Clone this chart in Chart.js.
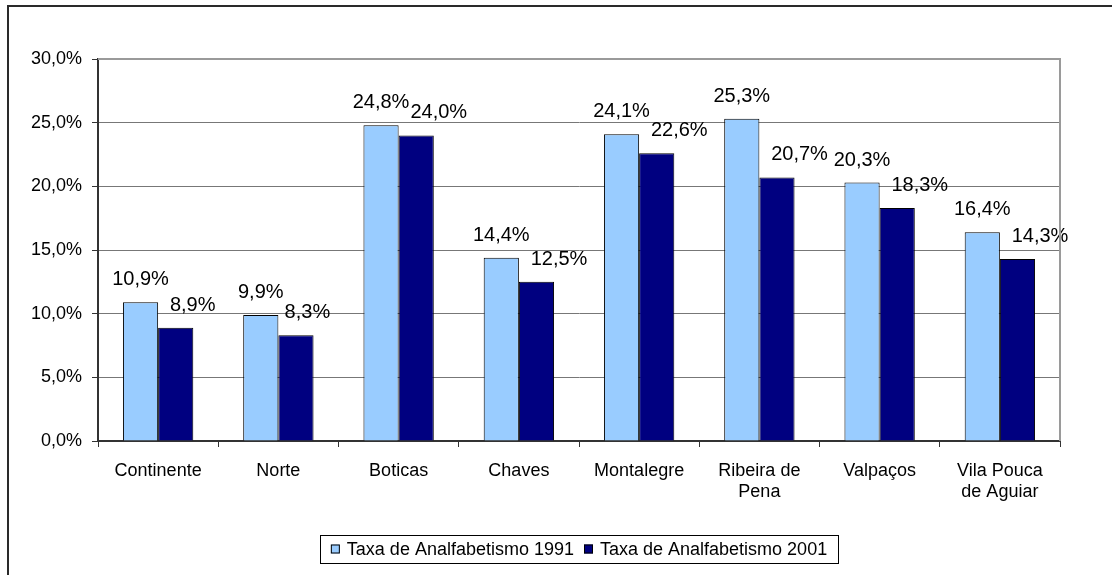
<!DOCTYPE html>
<html>
<head>
<meta charset="utf-8">
<script src="https://cdn.jsdelivr.net/npm/chart.js@4.4.1/dist/chart.umd.min.js"></script>
<style>
  html, body { margin: 0; padding: 0; background: #fff; overflow: hidden; }
  #wrap { position: relative; width: 1112px; height: 575px; }
  #frame { position: absolute; left: 7px; top: 5px; width: 1200px; height: 700px; border: 2px solid #2a2a2a; box-sizing: border-box; }
  canvas { position: absolute; left: 0; top: 0; }
</style>
</head>
<body>
<div id="wrap">
  <div id="frame"></div>
  <canvas id="chart" width="1112" height="575"></canvas>
</div>
<script>
// chart data
const categories = ['Continente', 'Norte', 'Boticas', 'Chaves', 'Montalegre',
  ['Ribeira de', 'Pena'], 'Valpaços', ['Vila Pouca', 'de Aguiar']];
const taxa1991 = [10.9, 9.9, 24.8, 14.4, 24.1, 25.3, 20.3, 16.4];
const taxa2001 = [8.9, 8.3, 24.0, 12.5, 22.6, 20.7, 18.3, 14.3];
const seriesNames = ['Taxa de Analfabetismo 1991', 'Taxa de Analfabetismo 2001'];
const yTicks = [0, 5, 10, 15, 20, 25, 30];

const FONT = '"Liberation Sans", Arial, sans-serif';
const fmt = v => v.toFixed(1).replace('.', ',') + '%';

// value labels above the bars, second series pushed right if it would overlap
const valueLabels = {
  id: 'valueLabels',
  afterDatasetsDraw(chart) {
    const c = chart.ctx;
    c.save();
    c.font = '20px ' + FONT;
    c.fillStyle = '#000';
    c.textBaseline = 'alphabetic';
    const m0 = chart.getDatasetMeta(0), m1 = chart.getDatasetMeta(1);
    m0.data.forEach((bar, i) => {
      const t0 = fmt(taxa1991[i]);
      const w0 = c.measureText(t0).width;
      const x0 = bar.x;
      c.textAlign = 'center';
      c.fillText(t0, x0, bar.y - 17);
      const b1 = m1.data[i];
      const t1 = fmt(taxa2001[i]);
      const w1 = c.measureText(t1).width;
      const left = Math.max(b1.x - w1 / 2, x0 + w0 / 2 + 1);
      c.textAlign = 'left';
      c.fillText(t1, left, b1.y - 17);
    });
    c.restore();
  }
};

// plot frame (top/right grey) and boxed legend
const frameAndLegend = {
  id: 'frameAndLegend',
  afterDraw(chart) {
    const c = chart.ctx, a = chart.chartArea;
    c.save();
    c.strokeStyle = '#9a9a9a';
    c.lineWidth = 2;
    c.beginPath();
    c.moveTo(a.left, a.top);
    c.lineTo(a.right, a.top);
    c.lineTo(a.right, a.bottom);
    c.stroke();

    // legend
    c.font = '18px ' + FONT;
    const sq = 9, gap = 7, spacing = 10;
    const ds = chart.data.datasets;
    const widths = ds.map(d => c.measureText(d.label).width);
    const total = sq + gap + widths[0] + spacing + sq + gap + widths[1];
    const cx = (a.left + a.right) / 2;
    const boxL = Math.round(cx - total / 2 - 11), boxW = Math.round(total + 22);
    const boxT = 535, boxH = 28;
    c.lineWidth = 1;
    c.strokeStyle = '#000';
    c.strokeRect(boxL + 0.5, boxT + 0.5, boxW, boxH);
    let x = cx - total / 2;
    const yMid = boxT + boxH / 2 + 1;
    c.textBaseline = 'middle';
    c.textAlign = 'left';
    ds.forEach((d, i) => {
      c.fillStyle = d.backgroundColor;
      c.fillRect(x, yMid - sq / 2 - 1, sq, sq);
      c.strokeRect(x + 0.5, yMid - sq / 2 - 0.5, sq - 1, sq - 1);
      x += sq + gap;
      c.fillStyle = '#000';
      c.fillText(d.label, x, yMid);
      x += widths[i] + spacing;
    });
    c.restore();
  }
};

new Chart(document.getElementById('chart').getContext('2d'), {
  type: 'bar',
  data: {
    labels: categories,
    datasets: [
      { label: seriesNames[0], data: taxa1991, backgroundColor: '#99CCFF', borderColor: '#000', borderWidth: 1 },
      { label: seriesNames[1], data: taxa2001, backgroundColor: '#000080', borderColor: '#000', borderWidth: 1 }
    ]
  },
  options: {
    responsive: false,
    animation: false,
    layout: { padding: { top: 59, right: 52, left: 0, bottom: 0 } },
    datasets: { bar: { categoryPercentage: 0.585, barPercentage: 1.0 } },
    plugins: {
      legend: { display: false },
      tooltip: { enabled: false }
    },
    scales: {
      x: {
        offset: true,
        grid: { offset: true, drawOnChartArea: false, drawTicks: true, tickLength: 6, color: '#333' },
        border: { color: '#333', width: 2 },
        ticks: { color: '#000', font: { family: FONT, size: 18, lineHeight: 1.2 }, padding: 13, maxRotation: 0, autoSkip: false },
        afterFit: s => { s.height = 134; }
      },
      y: {
        min: 0,
        max: 30,
        afterBuildTicks: s => { s.ticks = yTicks.map(v => ({ value: v })); },
        grid: { color: '#777', lineWidth: 1, tickLength: 6, tickColor: '#333' },
        border: { color: '#333', width: 2 },
        ticks: { color: '#000', font: { family: FONT, size: 18 }, padding: 10, callback: v => fmt(v) },
        afterFit: s => { s.width = 98; }
      }
    }
  },
  plugins: [valueLabels, frameAndLegend]
});
</script>
</body>
</html>
